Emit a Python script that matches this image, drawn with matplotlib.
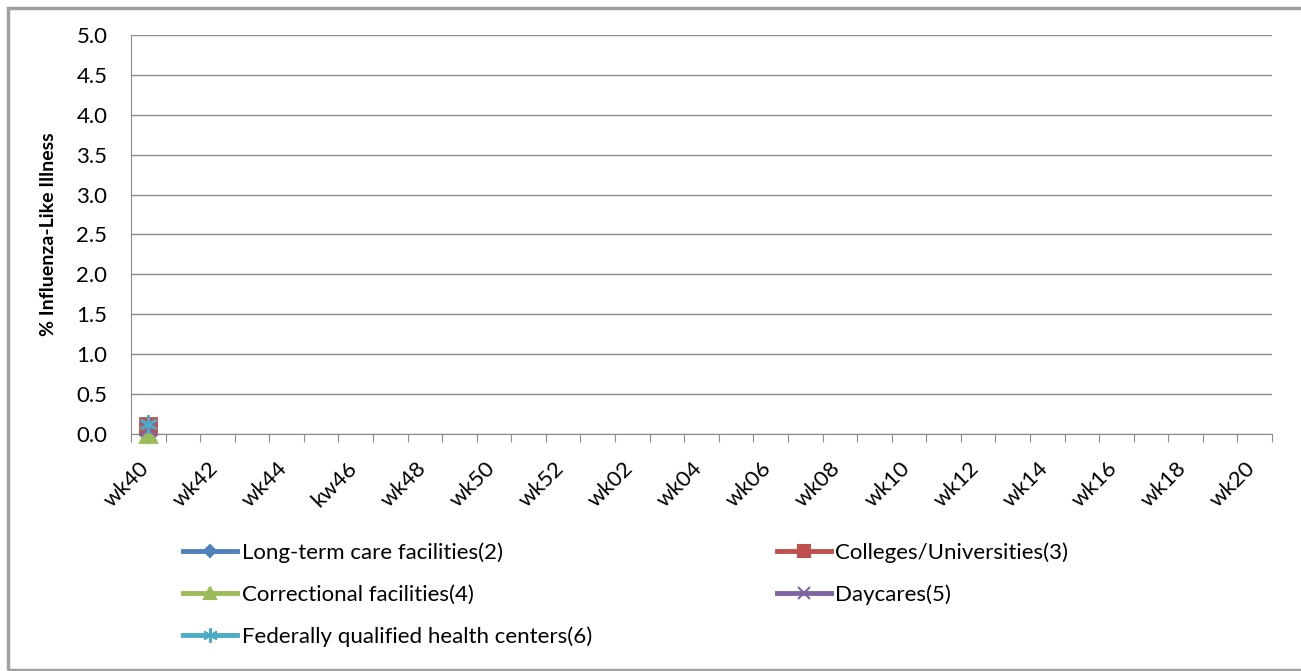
import numpy as np
import matplotlib.pyplot as plt
from matplotlib.patches import Rectangle

plt.rcParams['font.family'] = ['Lato', 'DejaVu Sans']

weeks = ['wk40', 'wk41', 'wk42', 'wk43', 'wk44', 'wk45', 'kw46', 'wk47', 'wk48', 'wk49',
         'wk50', 'wk51', 'wk52', 'wk01', 'wk02', 'wk03', 'wk04', 'wk05', 'wk06', 'wk07',
         'wk08', 'wk09', 'wk10', 'wk11', 'wk12', 'wk13', 'wk14', 'wk15', 'wk16', 'wk17',
         'wk18', 'wk19', 'wk20']

# only the first week has been reported so far
long_term = [0.0]
colleges = [0.1]
correctional = [0.0]
daycares = [0.07]
fqhc = [0.13]

series = [
    ('Long-term care facilities(2)', long_term, '#4F81BD', 'D', 8),
    ('Colleges/Universities(3)', colleges, '#C0504D', 's', 11),
    ('Correctional facilities(4)', correctional, '#9BBB59', '^', 11),
    ('Daycares(5)', daycares, '#8064A2', 'x', 11),
    ('Federally qualified health centers(6)', fqhc, '#4BACC6', (6, 2, 0), 13),
]

fs = 16

fig = plt.figure(figsize=(13.01, 6.71), dpi=100)
ax = fig.add_axes([131 / 1301, 1 - 434 / 671, 1141 / 1301, 399 / 671])

x = np.arange(len(weeks))
handles = []
for label, vals, color, mk, ms in series:
    y = np.full(len(weeks), np.nan)
    y[:len(vals)] = vals
    ax.plot(x, y, color=color, lw=3, marker=mk, ms=ms, mew=2, mec=color, mfc=color,
            clip_on=False, zorder=3)
    h, = ax.plot([], [], color=color, lw=3.5, marker=mk, ms=ms * 0.8, mew=1.5,
                 mec=color, mfc=color, label=label)
    handles.append(h)

ax.set_xlim(-0.5, len(weeks) - 0.5)
ax.set_ylim(0, 5)
ax.set_yticks(np.arange(0, 5.01, 0.5))
ax.set_yticklabels([f'{v:.1f}' for v in np.arange(0, 5.01, 0.5)], fontsize=fs)
ax.yaxis.grid(True, color='#8c8c8c', lw=1)
ax.set_axisbelow(True)
ax.tick_params(axis='y', length=0, pad=17)

ax.set_xticks(np.arange(-0.5, len(weeks), 1))
ax.set_xticklabels([])
ax.tick_params(axis='x', length=6, color='#8c8c8c', direction='out')
for i in range(0, len(weeks), 2):
    ax.annotate(weeks[i], (i, 0), xycoords='data', xytext=(3.5, -17), textcoords='offset points',
                rotation=45, ha='right', va='top', fontsize=fs)

for s in ['top', 'right']:
    ax.spines[s].set_visible(False)
for s in ['left', 'bottom']:
    ax.spines[s].set_color('#8c8c8c')

ax.set_ylabel('% Influenza-Like Illness', fontsize=14, fontweight='bold')
ax.yaxis.set_label_coords(-(131 - 57) / 1141, 0.5)

order = [0, 2, 4, 1, 3]
fig.legend([handles[i] for i in order], [series[i][0] for i in order],
           loc='upper left', bbox_to_anchor=(163 / 1301, 1 - 522 / 671), ncol=2,
           frameon=False, fontsize=fs, handlelength=2.45, handletextpad=0.2,
           labelspacing=0.98, columnspacing=8.3)

fig.patches.append(Rectangle((8 / 1301, 1 - 670 / 671), 1.0, 662 / 671, transform=fig.transFigure,
                             fill=False, edgecolor='#a0a0a0', lw=2.5))

fig.savefig('out.png', dpi=100)
